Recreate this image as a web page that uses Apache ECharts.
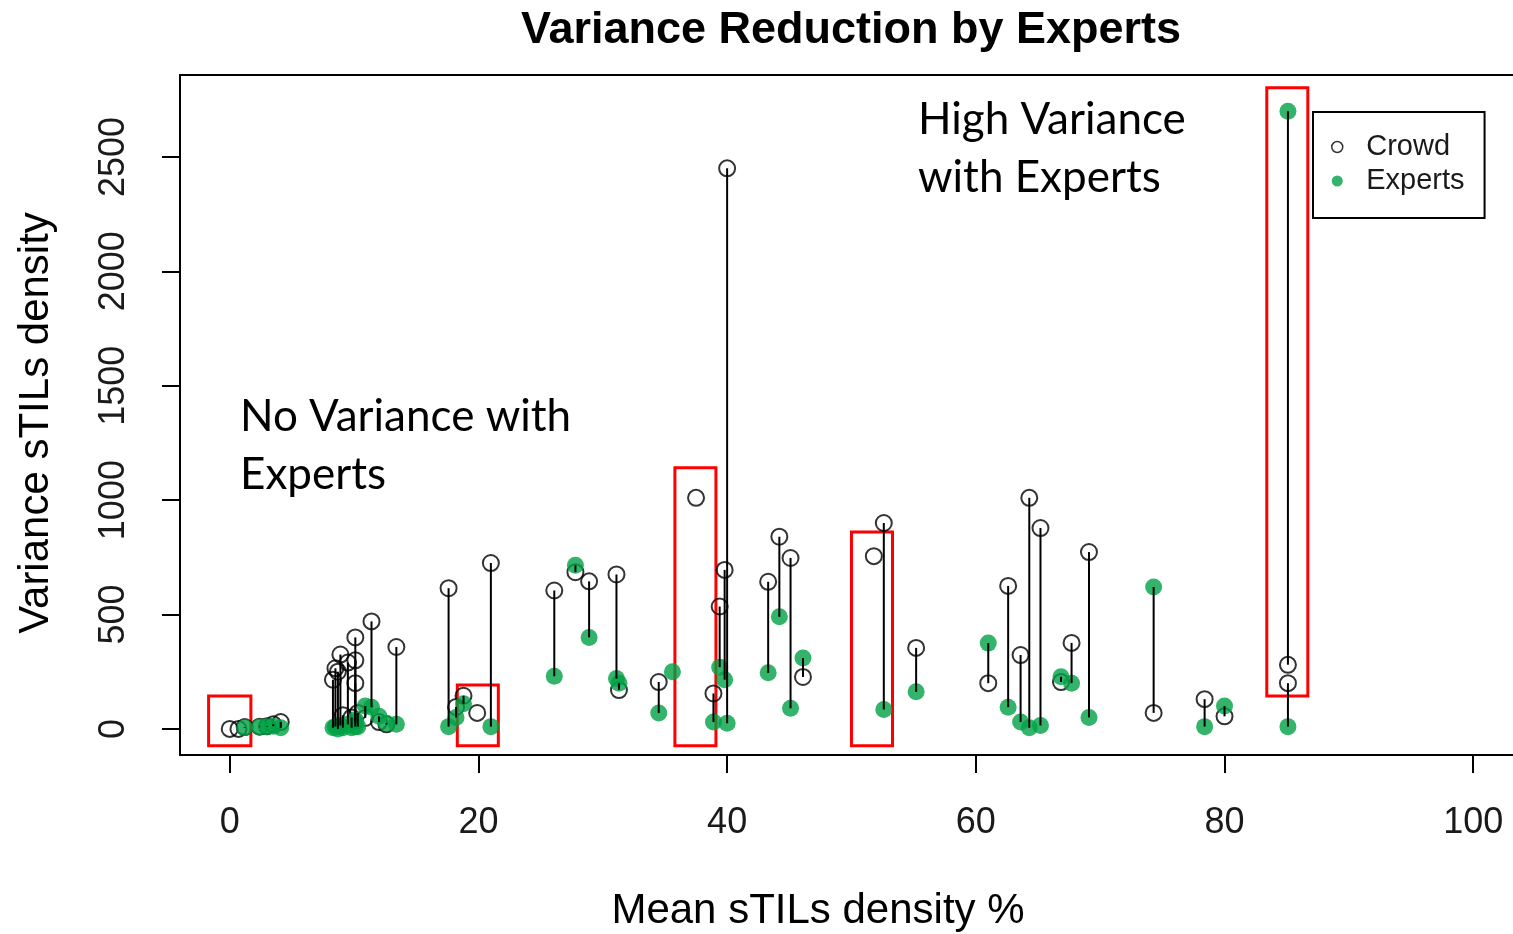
<!DOCTYPE html>
<html>
<head>
<meta charset="utf-8">
<script src="https://cdn.jsdelivr.net/npm/echarts@6/dist/echarts.min.js"></script>
<style>
  html, body { margin: 0; padding: 0; background: #fff; }
  #chart { width: 1513px; height: 934px; }
</style>
</head>
<body>
<div id="chart"></div>
<script>
// one entry per case: mean density, crowd variance, expert variance
const meanX = [0.0, 0.7, 1.2, 2.4, 3.0, 3.5, 4.1, 8.3, 8.5, 8.7, 8.9, 9.1, 9.5, 9.8,
  10.1, 10.1, 10.1, 10.3, 10.9, 11.4, 12.0, 12.6, 13.4, 17.6, 18.2, 18.8, 19.9, 21.0,
  26.1, 27.8, 28.9, 31.1, 31.3, 34.5, 35.6, 37.5, 38.9, 39.4, 39.8, 40.0, 43.3, 44.2,
  45.1, 46.1, 51.8, 52.6, 55.2, 61.0, 62.6, 63.6, 64.3, 65.2, 66.85, 67.7, 69.1, 74.3,
  78.4, 80.0, 85.1, 85.1];
const crowdVar = [0, 0, 8, 10, 12, 20, 30, 215, 265, 250, 325, 60, 290, 50,
  400, 300, 200, 70, 48, 470, 30, 20, 358, 615, 96, 145, 70, 725,
  605, 685, 645, 675, 170, 205, null, 1010, 155, 535, 695, 2450, 643, 840,
  747, 227, 755, 900, 354, 200, 625, 323, 1010, 878, 205, 376, 773, 70,
  130, 55, 280, 200];
const expertVar = [null, null, 5, 8, 10, 12, 5, 5, 10, 0, 15, 5, 20, 5,
  30, 10, 40, 10, 100, 95, 55, 25, 20, 10, 50, 110, null, 10,
  230, 715, 400, 220, 200, 70, 250, null, 30, 270, 215, 25, 245, 490,
  90, 310, null, 85, 162, 375, 95, 30, 5, 15, 228, 200, 50, 620,
  10, 100, 2700, 10];

const xTicks = [0, 20, 40, 60, 80, 100];
const yTicks = [0, 500, 1000, 1500, 2000, 2500];

// highlighted boxes [x1, y1, x2, y2] in data units
const boxes = [
  [-1.7, -74, 1.7, 144],
  [18.3, -74, 21.6, 192],
  [35.8, -74, 39.1, 1141],
  [50.0, -74, 53.3, 861],
  [83.4, 144, 86.7, 2802]
];

var green = "#00a145";

var crowdData = [];
var expertData = [];
var segData = [];
for (let i = 0; i < meanX.length; i++) {
  if (crowdVar[i] != null) crowdData.push([meanX[i], crowdVar[i]]);
  if (expertVar[i] != null) expertData.push([meanX[i], expertVar[i]]);
  if (crowdVar[i] != null && expertVar[i] != null) {
    segData.push([meanX[i], crowdVar[i], expertVar[i]]);
  }
}

var chart = echarts.init(document.getElementById("chart"));

// plot frame: left, top and bottom sides only (right side runs off the picture)
var frameLine = { show: true, onZero: false, lineStyle: { color: "#000", width: 2 } };

var option = {
  backgroundColor: "#fff",
  animation: false,
  grid: {
    left: 180,
    top: 75,
    right: 0,
    bottom: 179,
    show: false
  },
  xAxis: [
    {
      type: "value",
      min: -4,
      max: 103.2,
      axisLine: frameLine,
      splitLine: { show: false },
      axisTick: {
        show: true,
        customValues: xTicks,
        length: 18,
        lineStyle: { color: "#000", width: 2 }
      },
      axisLabel: {
        customValues: xTicks,
        margin: 50,
        fontSize: 36,
        fontFamily: "Liberation Sans",
        color: "#1a1a1a"
      }
    },
    {
      type: "value",
      position: "top",
      min: -4,
      max: 103.2,
      axisLine: frameLine,
      axisTick: { show: false },
      axisLabel: { show: false },
      splitLine: { show: false }
    }
  ],
  yAxis: {
    type: "value",
    min: -114,
    max: 2858,
    axisLine: frameLine,
    splitLine: { show: false },
    axisTick: {
      show: true,
      customValues: yTicks,
      length: 18,
      lineStyle: { color: "#000", width: 2 }
    },
    axisLabel: {
      customValues: yTicks,
      formatter: function(v) { return String(v); },
      rotate: 90,
      margin: 48,
      fontSize: 36,
      fontFamily: "Liberation Sans",
      color: "#1a1a1a"
    }
  },
  legend: {
    data: [
      { name: "Crowd", itemStyle: { color: "transparent", borderColor: "#000", borderWidth: 1.5 } },
      { name: "Experts", itemStyle: { color: green, borderWidth: 0 } }
    ],
    orient: "vertical",
    left: 1313,
    top: 112,
    icon: "circle",
    itemWidth: 48,
    itemHeight: 11,
    itemGap: 2,
    padding: [19, 20, 21, 18],
    borderColor: "#000",
    borderWidth: 2,
    backgroundColor: "#fff",
    selectedMode: false,
    textStyle: {
      fontSize: 29,
      lineHeight: 32,
      fontFamily: "Liberation Sans",
      color: "#1a1a1a"
    }
  },
  series: [
    {
      name: "Crowd",
      type: "scatter",
      symbol: "circle",
      symbolSize: 16,
      itemStyle: { color: "transparent", borderColor: "#000", borderWidth: 2 },
      data: crowdData,
      z: 2
    },
    {
      name: "Experts",
      type: "scatter",
      symbol: "circle",
      symbolSize: 17,
      itemStyle: { color: green },
      data: expertData,
      z: 3
    },
    {
      name: "segments",
      type: "custom",
      z: 4,
      encode: { x: 0, y: [1, 2] },
      data: segData,
      renderItem: function(params, api) {
        var p1 = api.coord([api.value(0), api.value(1)]);
        var p2 = api.coord([api.value(0), api.value(2)]);
        return {
          type: "line",
          shape: { x1: p1[0], y1: p1[1], x2: p2[0], y2: p2[1] },
          style: { stroke: "#000", lineWidth: 2 }
        };
      },
      markArea: {
        silent: true,
        itemStyle: { color: "transparent", borderColor: "#ff0000", borderWidth: 3 },
        data: boxes.map(function(b) {
          return [{ coord: [b[0], b[1]] }, { coord: [b[2], b[3]] }];
        })
      }
    }
  ],
  graphic: [
    {
      type: "text",
      x: 851,
      y: 31,
      style: {
        text: "Variance Reduction by Experts",
        font: "bold 45px 'Liberation Sans'",
        fill: "#000",
        textAlign: "center",
        textVerticalAlign: "middle"
      }
    },
    {
      type: "text",
      x: 818,
      y: 911,
      style: {
        text: "Mean sTILs density %",
        font: "42px 'Liberation Sans'",
        fill: "#000",
        textAlign: "center",
        textVerticalAlign: "middle"
      }
    },
    {
      type: "text",
      x: 36,
      y: 423,
      rotation: Math.PI / 2,
      style: {
        text: "Variance sTILs density",
        font: "42px 'Liberation Sans'",
        fill: "#000",
        textAlign: "center",
        textVerticalAlign: "middle"
      }
    },
    {
      type: "text",
      x: 918,
      y: 91,
      style: {
        text: "High Variance\nwith Experts",
        font: "44px Lato",
        lineHeight: 58,
        fill: "#000",
        textAlign: "left",
        textVerticalAlign: "top"
      }
    },
    {
      type: "text",
      x: 240,
      y: 388,
      style: {
        text: "No Variance with\nExperts",
        font: "44px Lato",
        lineHeight: 58,
        fill: "#000",
        textAlign: "left",
        textVerticalAlign: "top"
      }
    }
  ]
};

chart.setOption(option);
window.onresize = function() {
  chart.resize();
};
</script>
</body>
</html>
